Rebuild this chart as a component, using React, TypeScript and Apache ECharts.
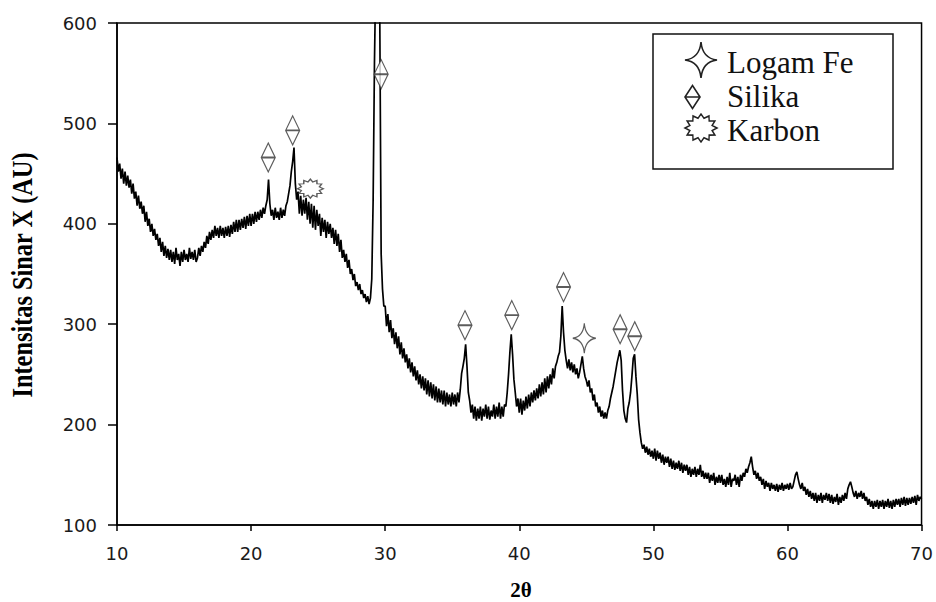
import React, { useEffect, useRef } from "react";
import * as echarts from "echarts";

const thetaStart = 10;
const thetaStep = 0.1;
const intensity: number[] = [
  // 10
  466, 452, 460, 445, 455, 440, 452, 438, 448, 436,
  // 11
  444, 430, 440, 425, 432, 418, 428, 415, 422, 410,
  // 12
  418, 402, 412, 398, 405, 392, 400, 388, 395, 384,
  // 13
  390, 378, 386, 372, 382, 368, 378, 366, 375, 364,
  // 14
  374, 362, 372, 360, 376, 364, 370, 358, 372, 362,
  // 15
  374, 364, 370, 362, 376, 365, 372, 364, 374, 362,
  // 16
  366, 376, 368, 378, 372, 382, 376, 388, 380, 392,
  // 17
  384, 394, 386, 398, 388, 396, 386, 398, 388, 396,
  // 18
  386, 397, 388, 398, 387, 399, 390, 402, 392, 404,
  // 19
  392, 404, 394, 405, 396, 407, 395, 408, 398, 410,
  // 20
  398, 410, 400, 412, 402, 412, 404, 414, 406, 416,
  // 21
  410, 418, 424, 444, 420, 408, 414, 404, 416, 406,
  // 22
  412, 404, 416, 406, 414, 408, 418, 422, 430, 438,
  // 23
  452, 462, 476, 440, 424, 432, 410, 428, 408, 424,
  // 24
  410, 426, 404, 422, 400, 420, 396, 418, 394, 414,
  // 25
  398, 410, 388, 406, 392, 404, 386, 402, 390, 400,
  // 26
  386, 396, 380, 394, 378, 390, 372, 384, 366, 374,
  // 27
  362, 370, 356, 364, 350, 355, 344, 350, 338, 342,
  // 28
  334, 340, 330, 334, 326, 330, 322, 328, 320, 326,
  // 29
  345, 422, 560, 650, 660, 645, 600, 370, 335, 318,
  // 30
  318, 298, 310, 292, 304, 286, 296, 280, 292, 276,
  // 31
  288, 270, 282, 266, 276, 262, 270, 256, 266, 252,
  // 32
  262, 248, 258, 244, 254, 240, 250, 236, 248, 234,
  // 33
  246, 230, 244, 228, 242, 226, 240, 224, 238, 222,
  // 34
  236, 222, 234, 220, 234, 218, 232, 220, 230, 218,
  // 35
  232, 220, 230, 218, 232, 222, 235, 251, 258, 266,
  // 36
  280, 258, 232, 224, 212, 220, 206, 218, 204, 216,
  // 37
  206, 218, 204, 216, 208, 220, 206, 218, 205, 214,
  // 38
  208, 220, 206, 218, 208, 222, 206, 218, 208, 220,
  // 39
  218, 232, 250, 272, 290, 270, 245, 232, 218, 226,
  // 40
  212, 226, 210, 224, 214, 228, 216, 230, 218, 232,
  // 41
  222, 234, 224, 236, 226, 240, 228, 242, 230, 246,
  // 42
  232, 248, 236, 250, 240, 256, 246, 258, 262, 268,
  // 43
  272, 288, 318, 292, 274, 264, 256, 265, 254, 262,
  // 44
  252, 260, 250, 256, 246, 252, 260, 268, 256, 248,
  // 45
  244, 238, 244, 232, 236, 224, 230, 218, 222, 212,
  // 46
  218, 208, 214, 206, 212, 206, 214, 218, 226, 232,
  // 47
  238, 246, 254, 262, 268, 274, 264, 234, 214, 206,
  // 48
  202, 216, 222, 232, 248, 266, 270, 248, 230, 205,
  // 49
  192, 182, 176, 180, 172, 178, 170, 176, 168, 174,
  // 50
  166, 176, 164, 174, 166, 172, 162, 170, 160, 168,
  // 51
  162, 168, 158, 166, 156, 164, 155, 162, 156, 164,
  // 52
  154, 162, 152, 160, 154, 160, 150, 158, 148, 156,
  // 53
  150, 158, 148, 156, 150, 160, 148, 154, 146, 152,
  // 54
  146, 152, 142, 150, 144, 152, 140, 148, 142, 150,
  // 55
  142, 150, 140, 146, 138, 148, 140, 152, 138, 146,
  // 56
  144, 150, 140, 148, 138, 150, 144, 152, 148, 156,
  // 57
  152, 158, 162, 168, 158, 150, 154, 146, 152, 144,
  // 58
  148, 140, 146, 136, 144, 138, 142, 134, 142, 136,
  // 59
  140, 134, 141, 133, 140, 135, 142, 134, 140, 136,
  // 60
  141, 135, 142, 136, 138, 144, 150, 153, 146, 140,
  // 61
  136, 142, 134, 138, 130, 136, 128, 134, 126, 132,
  // 62
  124, 132, 122, 130, 124, 132, 122, 130, 125, 132,
  // 63
  124, 131, 122, 130, 121, 128, 123, 131, 120, 128,
  // 64
  122, 130, 124, 132, 126, 136, 140, 143, 138, 132,
  // 65
  128, 134, 126, 132, 128, 134, 126, 132, 124, 128,
  // 66
  120, 126, 118, 124, 116, 124, 118, 125, 116, 124,
  // 67
  118, 125, 116, 124, 118, 126, 117, 124, 116, 125,
  // 68
  118, 126, 120, 126, 118, 127, 120, 128, 119, 127,
  // 69
  120, 127, 121, 128, 122, 129, 120, 130, 124, 128,
  // 70
  126,
];

// Peak markers (marker centre positions)
const silikaTheta = [21.28, 23.1, 29.7, 35.95, 39.44, 43.3, 47.52, 48.61];
const silikaY = [466, 493, 549, 299, 309, 337, 295, 288];
const feTheta = [44.85];
const feY = [286];
const karbonTheta = [24.42];
const karbonY = [435];

const legendNames = ["Logam Fe", "Silika", "Karbon"];
const xTicks = { min: 10, max: 70, interval: 10 };
const yTicks = { min: 100, max: 600, interval: 100 };

// ---- symbol shapes (styling) ----
const STAR_D =
  "M0,-15 Q1,-1.5 11.5,0 Q1,1.5 0,15 Q-1,1.5 -11.5,0 Q-1,-1.5 0,-15 Z";
const DIAMOND_D = "M0,-15 L7,0 L0,15 L-7,0 Z M-7,0 L7,0";
function burstD(rx: number, ry: number, n: number, k: number): string {
  let d = "";
  for (let i = 0; i < 2 * n; i++) {
    const a = (Math.PI * i) / n;
    const r = i % 2 ? k : 1;
    const x = (rx * r * Math.cos(a)).toFixed(2);
    const y = (ry * r * Math.sin(a)).toFixed(2);
    d += (i ? "L" : "M") + x + "," + y;
  }
  return d + "Z";
}
const BURST_D = burstD(13, 9.5, 12, 0.72);

let registered = false;
function registerShapes() {
  if (registered) return;
  registered = true;
  echarts.graphic.registerShape("starIcon", echarts.graphic.extendPath(STAR_D, {}));
  echarts.graphic.registerShape("diamondIcon", echarts.graphic.extendPath(DIAMOND_D, {}));
  echarts.graphic.registerShape("burstIcon", echarts.graphic.extendPath(BURST_D, {}));
}

const markerStyle = { color: "#ffffff", borderColor: "#333333", borderWidth: 1.3 };
const SERIF = "Liberation Serif";

export default function App() {
  const ref = useRef<HTMLDivElement>(null);

  useEffect(() => {
    if (!ref.current) return;
    registerShapes();
    const chart = echarts.init(ref.current, undefined, { renderer: "svg" });

    const lineData = intensity.map((v, i) => [
      Number((thetaStart + i * thetaStep).toFixed(1)),
      v,
    ]);
    const zip = (xs: number[], ys: number[]) => xs.map((x, i) => [x, ys[i]]);

    const iconStyle = {
      fill: "#ffffff",
      stroke: "#222222",
      lineWidth: 1.5,
      strokeNoScale: true,
    };
    const legendFont = {
      fontFamily: SERIF,
      fontSize: 31,
      fill: "#111111",
    };

    const option: any = {
      animation: false,
      backgroundColor: "#ffffff",
      grid: {
        left: 117,
        right: 11,
        top: 23,
        bottom: 77,
        show: true,
        borderColor: "#000000",
        borderWidth: 1.5,
        backgroundColor: "transparent",
      },
      xAxis: {
        type: "value",
        min: xTicks.min,
        max: xTicks.max,
        interval: xTicks.interval,
        axisLine: { show: true, lineStyle: { color: "#000", width: 1.5 } },
        axisTick: { show: true, inside: false, length: 6, lineStyle: { color: "#000", width: 1.5 } },
        axisLabel: {
          margin: 19,
          fontFamily: "DejaVu Sans",
          fontSize: 18,
          color: "#1a1a1a",
        },
        splitLine: { show: false },
      },
      yAxis: {
        type: "value",
        min: yTicks.min,
        max: yTicks.max,
        interval: yTicks.interval,
        axisLine: { show: true, lineStyle: { color: "#000", width: 1.5 } },
        axisTick: { show: true, inside: false, length: 9, lineStyle: { color: "#000", width: 1.5 } },
        axisLabel: {
          margin: 20,
          fontFamily: "DejaVu Sans",
          fontSize: 18,
          color: "#1a1a1a",
        },
        splitLine: { show: false },
      },
      series: [
        {
          type: "line",
          name: "XRD",
          data: lineData,
          showSymbol: false,
          symbol: "none",
          lineStyle: { color: "#000000", width: 1.7 },
          clip: true,
          z: 2,
        },
        {
          type: "scatter",
          name: legendNames[0],
          data: zip(feTheta, feY),
          symbol: "path://" + STAR_D,
          symbolSize: [23, 30],
          itemStyle: markerStyle,
          z: 5,
        },
        {
          type: "scatter",
          name: legendNames[1],
          data: zip(silikaTheta, silikaY),
          symbol: "path://" + DIAMOND_D,
          symbolSize: [14, 29],
          itemStyle: markerStyle,
          z: 5,
        },
        {
          type: "scatter",
          name: legendNames[2],
          data: zip(karbonTheta, karbonY),
          symbol: "path://" + BURST_D,
          symbolSize: [26, 19],
          itemStyle: markerStyle,
          z: 5,
        },
      ],
      graphic: [
        // legend box
        {
          type: "rect",
          shape: { x: 653, y: 34, width: 240, height: 135 },
          style: { fill: "#ffffff", stroke: "#111111", lineWidth: 1.5 },
          z: 10,
        },
        {
          type: "starIcon",
          x: 701,
          y: 60,
          scaleX: 32 / 23,
          scaleY: 36 / 30,
          style: iconStyle,
          z: 11,
        },
        {
          type: "diamondIcon",
          x: 692.5,
          y: 97,
          scaleX: 15 / 14,
          scaleY: 23 / 30,
          style: iconStyle,
          z: 11,
        },
        {
          type: "burstIcon",
          x: 701,
          y: 128,
          scaleX: 32 / 26,
          scaleY: 28 / 19,
          style: iconStyle,
          z: 11,
        },
        {
          type: "text",
          x: 727,
          y: 62,
          style: { ...legendFont, text: legendNames[0], textAlign: "left", textVerticalAlign: "middle" },
          z: 11,
        },
        {
          type: "text",
          x: 727,
          y: 96,
          style: { ...legendFont, text: legendNames[1], textAlign: "left", textVerticalAlign: "middle" },
          z: 11,
        },
        {
          type: "text",
          x: 727,
          y: 130,
          style: { ...legendFont, text: legendNames[2], textAlign: "left", textVerticalAlign: "middle" },
          z: 11,
        },
        // axis titles
        {
          type: "text",
          x: 521,
          y: 590,
          style: {
            text: "2θ",
            fontFamily: SERIF,
            fontWeight: "bold",
            fontSize: 21,
            fill: "#000000",
            textAlign: "center",
            textVerticalAlign: "middle",
          },
        },
        {
          type: "text",
          x: 22,
          y: 275,
          rotation: Math.PI / 2,
          scaleX: 0.84,
          style: {
            text: "Intensitas Sinar X (AU)",
            fontFamily: SERIF,
            fontWeight: "bold",
            fontSize: 29,
            fill: "#000000",
            textAlign: "center",
            textVerticalAlign: "middle",
          },
        },
      ],
    };

    chart.setOption(option);
    return () => {
      chart.dispose();
    };
  }, []);

  return (
    <div
      ref={ref}
      style={{ position: "absolute", left: 0, top: 0, width: 936, height: 602 }}
    />
  );
}
